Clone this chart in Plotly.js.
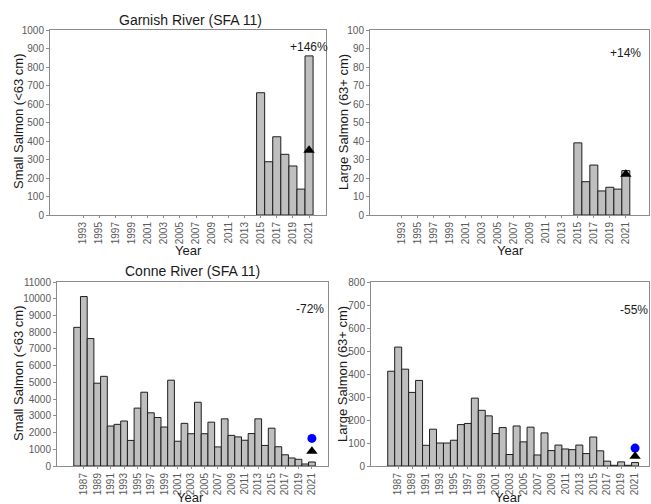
<!DOCTYPE html>
<html>
<head>
<meta charset="utf-8">
<script src="https://cdn.plot.ly/plotly-3.0.1.min.js"></script>
<style>html,body{margin:0;padding:0;background:#fff;}#chart{width:651px;height:504px;}</style>
</head>
<body>
<div id="chart"></div>
<script>
// ---- Data ----
var garnishYears = [2015, 2016, 2017, 2018, 2019, 2020, 2021];
var garnishSmall = [661, 288, 423, 328, 265, 140, 860];
var garnishLarge = [39, 18, 27, 13, 15, 14, 24];
var garnishSmallTriangle = [350];
var garnishLargeTriangle = [22];
var garnishPct = ["+146%", "+14%"];

var conneYears = [1986, 1987, 1988, 1989, 1990, 1991, 1992, 1993, 1994, 1995, 1996, 1997, 1998, 1999, 2000,
  2001, 2002, 2003, 2004, 2005, 2006, 2007, 2008, 2009, 2010, 2011, 2012, 2013, 2014, 2015, 2016, 2017, 2018, 2019, 2020, 2021];
var conneSmall = [8290, 10130, 7620, 4950, 5360, 2390, 2490, 2690, 1530, 3460, 4410, 3180, 2900, 2330, 5130,
  1480, 2550, 1930, 3810, 1930, 2620, 1140, 2820, 1830, 1740, 1540, 1940, 2820, 1230, 2260, 1150, 670, 480, 400, 120, 240];
var conneLarge = [412, 517, 421, 320, 372, 90, 160, 100, 100, 112, 180, 185, 295, 242, 218,
  141, 167, 50, 174, 105, 169, 48, 144, 67, 91, 74, 71, 91, 54, 126, 66, 21, 3, 18, 3, 15];
var conneSmallTriangle = [880];
var conneSmallCircle = [1650];
var conneLargeTriangle = [42];
var conneLargeCircle = [78];
var connePct = ["-72%", "-55%"];
var markYear = [2021];

var topTickYears = [1993,1995,1997,1999,2001,2003,2005,2007,2009,2011,2013,2015,2017,2019,2021];
var bottomTickYears = [1987,1989,1991,1993,1995,1997,1999,2001,2003,2005,2007,2009,2011,2013,2015,2017,2019,2021];

// ---- Layout helpers ----
var W = 651, H = 504;
function px(x){ return x / W; }
function py(y){ return 1 - y / H; }

var barStyle = {color: '#bfbfbf', line: {color: '#1e1e1e', width: 1}};
function bars(x, y, xa, ya){
  return {type: 'bar', x: x, y: y, xaxis: xa, yaxis: ya, marker: barStyle, width: 1, hoverinfo: 'x+y'};
}
function tri(y, xa, ya){
  return {type: 'scatter', mode: 'markers', x: markYear, y: y, xaxis: xa, yaxis: ya,
    marker: {symbol: 'triangle-up', size: 10, color: '#000'}};
}
function circ(y, xa, ya){
  return {type: 'scatter', mode: 'markers', x: markYear, y: y, xaxis: xa, yaxis: ya,
    marker: {symbol: 'circle', size: 9, color: '#0000ff'}};
}

var traces = [
  bars(garnishYears, garnishSmall, 'x', 'y'), tri(garnishSmallTriangle, 'x', 'y'),
  bars(garnishYears, garnishLarge, 'x2', 'y2'), tri(garnishLargeTriangle, 'x2', 'y2'),
  bars(conneYears, conneSmall, 'x3', 'y3'), circ(conneSmallCircle, 'x3', 'y3'), tri(conneSmallTriangle, 'x3', 'y3'),
  bars(conneYears, conneLarge, 'x4', 'y4'), circ(conneLargeCircle, 'x4', 'y4'), tri(conneLargeTriangle, 'x4', 'y4')
];

var tickFont = {family: 'Liberation Sans, Arial, sans-serif', size: 10, color: '#5a5a5a'};
function xAxis(dom, range, ticks, anchor){
  return {domain: dom, range: range, anchor: anchor, tickmode: 'array', tickvals: ticks, ticktext: ticks.map(String),
    tickangle: -90, tickfont: tickFont, showline: true, linecolor: '#8c8c8c', linewidth: 1, mirror: true,
    ticks: 'outside', ticklen: 2, tickcolor: '#8c8c8c', showgrid: false, zeroline: false, fixedrange: true};
}
function yAxis(dom, range, dtick, anchor){
  return {domain: dom, range: range, anchor: anchor, dtick: dtick, tick0: 0, tickfont: tickFont, tickformat: 'd',
    showline: true, linecolor: '#8c8c8c', linewidth: 1, mirror: true,
    ticks: 'outside', ticklen: 3, tickcolor: '#8c8c8c', showgrid: false, zeroline: false, fixedrange: true};
}

var topY = [py(215), py(30)];
var botY = [py(466), py(282)];

var titleFont = {family: 'Liberation Sans, Arial, sans-serif', size: 14, color: '#1a1a1a'};
var axTitleFont = {family: 'Liberation Sans, Arial, sans-serif', size: 13, color: '#1a1a1a'};
var pctFont = {family: 'Liberation Sans, Arial, sans-serif', size: 12, color: '#1a1a1a'};

function ann(text, x, y, font, extra){
  var a = {text: text, xref: 'paper', yref: 'paper', x: px(x), y: py(y), xanchor: 'center', yanchor: 'middle',
    showarrow: false, font: font};
  if (extra) for (var k in extra) a[k] = extra[k];
  return a;
}

var layout = {
  width: W, height: H, margin: {l: 0, r: 0, t: 0, b: 0},
  paper_bgcolor: '#fff', plot_bgcolor: '#fff', showlegend: false, bargap: 0,
  xaxis: xAxis([px(50), px(326)], [1988.9, 2023.1], topTickYears, 'y'),
  yaxis: yAxis(topY, [0, 1000], 100, 'x'),
  xaxis2: xAxis([px(370), px(649)], [1989.0, 2023.9], topTickYears, 'y2'),
  yaxis2: yAxis(topY, [0, 100], 10, 'x2'),
  xaxis3: xAxis([px(57), px(328)], [1983.0, 2023.4], bottomTickYears, 'y3'),
  yaxis3: yAxis(botY, [0, 11000], 1000, 'x3'),
  xaxis4: xAxis([px(371), px(649)], [1983.1, 2023.0], bottomTickYears, 'y4'),
  yaxis4: yAxis(botY, [0, 800], 100, 'x4'),
  annotations: [
    ann('Garnish River (SFA 11)', 190, 20, titleFont),
    ann('Conne River (SFA 11)', 192, 271, titleFont),
    ann('Small Salmon (&lt;63 cm)', 18, 122, axTitleFont, {textangle: -90}),
    ann('Large Salmon (63+ cm)', 343, 122, axTitleFont, {textangle: -90}),
    ann('Small Salmon (&lt;63 cm)', 18, 374, axTitleFont, {textangle: -90}),
    ann('Large Salmon (63+ cm)', 342, 374, axTitleFont, {textangle: -90}),
    ann('Year', 188, 250, axTitleFont),
    ann('Year', 510, 250, axTitleFont),
    ann('Year', 190, 497, axTitleFont),
    ann('Year', 508, 497, axTitleFont),
    ann(garnishPct[0], 309, 47, pctFont),
    ann(garnishPct[1], 625, 53, pctFont),
    ann(connePct[0], 310, 309, pctFont),
    ann(connePct[1], 634, 310, pctFont)
  ]
};

Plotly.newPlot('chart', traces, layout, {staticPlot: true, displayModeBar: false});
</script>
</body>
</html>
